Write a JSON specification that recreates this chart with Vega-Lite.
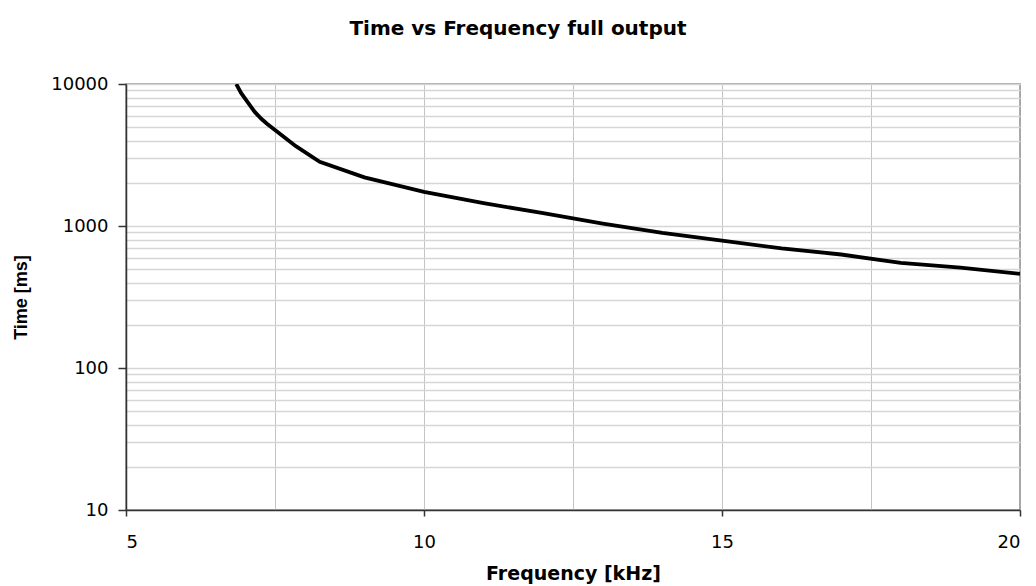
{
  "$schema": "https://vega.github.io/schema/vega-lite/v6.json",
  "autosize": {"type": "none"},
  "width": 894,
  "height": 426,
  "padding": {"left": 126, "top": 84, "right": 16, "bottom": 76},
  "background": "white",
  "title": {
    "text": "Time vs Frequency full output",
    "font": "DejaVu Sans",
    "fontSize": 20,
    "fontWeight": "bold",
    "color": "#000000",
    "anchor": "middle",
    "dx": -55,
    "offset": 36
  },
  "config": {
    "view": {"stroke": "#8c8c8c", "strokeWidth": 1.5},
    "axis": {
      "labelFont": "DejaVu Sans",
      "labelFontSize": 18,
      "labelColor": "#000000",
      "titleFont": "DejaVu Sans",
      "titleFontWeight": "bold",
      "titleColor": "#000000",
      "domainColor": "#333333",
      "domainWidth": 1.5,
      "tickColor": "#333333",
      "labelOverlap": false
    }
  },
  "data": {
    "values": [
      {"freq": 6.85, "time": 10000},
      {"freq": 6.93, "time": 8650},
      {"freq": 7.05, "time": 7370},
      {"freq": 7.16, "time": 6360},
      {"freq": 7.27, "time": 5690},
      {"freq": 7.37, "time": 5230},
      {"freq": 7.5, "time": 4740},
      {"freq": 7.85, "time": 3650},
      {"freq": 8.25, "time": 2830},
      {"freq": 9.0, "time": 2200},
      {"freq": 10.0, "time": 1740},
      {"freq": 11.0, "time": 1450},
      {"freq": 12.0, "time": 1230},
      {"freq": 13.0, "time": 1040},
      {"freq": 14.0, "time": 895},
      {"freq": 15.0, "time": 790},
      {"freq": 16.0, "time": 695},
      {"freq": 17.0, "time": 630},
      {"freq": 18.0, "time": 550},
      {"freq": 19.0, "time": 510},
      {"freq": 20.0, "time": 460}
    ]
  },
  "mark": {"type": "line", "color": "#000000", "strokeWidth": 3.8, "clip": true},
  "encoding": {
    "x": {
      "field": "freq",
      "type": "quantitative",
      "scale": {"domain": [5, 20], "nice": false, "zero": false},
      "axis": {
        "title": "Frequency [kHz]",
        "titleFontSize": 19,
        "titlePadding": 13,
        "values": [5, 7.5, 10, 12.5, 15, 17.5, 20],
        "format": "d",
        "labelExpr": "datum.value % 5 === 0 ? datum.label : ''",
        "tickSize": 6,
        "tickWidth": 1.5,
        "tickOpacity": {"condition": {"test": "datum.value % 5 !== 0", "value": 0}, "value": 1},
        "labelPadding": 17,
        "grid": true,
        "gridColor": "#c4c4c4",
        "gridWidth": 1,
        "gridOpacity": {"condition": {"test": "datum.value === 5 || datum.value === 20", "value": 0}, "value": 1}
      }
    },
    "y": {
      "field": "time",
      "type": "quantitative",
      "scale": {"type": "log", "domain": [10, 10000], "nice": false},
      "axis": {
        "title": "Time [ms]",
        "titleFont": "Liberation Sans",
        "titleFontSize": 18,
        "titlePadding": 20,
        "values": [10, 20, 30, 40, 50, 60, 70, 80, 90, 100, 200, 300, 400, 500, 600, 700, 800, 900, 1000, 2000, 3000, 4000, 5000, 6000, 7000, 8000, 9000, 10000],
        "format": "d",
        "labelExpr": "(datum.value === 10 || datum.value === 100 || datum.value === 1000 || datum.value === 10000) ? datum.label : ''",
        "tickSize": 8,
        "tickWidth": 1.5,
        "tickOpacity": {"condition": {"test": "datum.value === 10 || datum.value === 100 || datum.value === 1000 || datum.value === 10000", "value": 1}, "value": 0},
        "labelPadding": 10,
        "grid": true,
        "gridColor": "#d6d6d6",
        "gridWidth": 1.3,
        "gridOpacity": {"condition": {"test": "datum.value === 10", "value": 0}, "value": 1}
      }
    }
  }
}
